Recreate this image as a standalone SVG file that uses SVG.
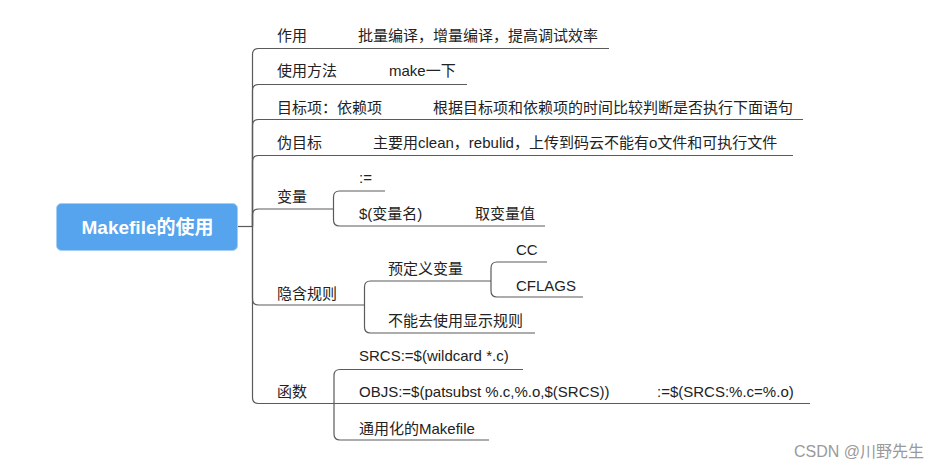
<svg xmlns="http://www.w3.org/2000/svg" width="945" height="469" viewBox="0 0 945 469">
<style>
.ln{fill:none;stroke:#5a5a5a;stroke-width:1.2}
.t{font-family:"Liberation Sans","Noto Sans CJK SC",sans-serif;font-size:15px;fill:#222}
.root{font-family:"Liberation Sans","Noto Sans CJK SC",sans-serif;font-size:19px;font-weight:bold;fill:#fff}
.wm{font-family:"Liberation Sans","Noto Sans CJK SC",sans-serif;font-size:16px;fill:#9a9a9a}
</style>
<rect width="945" height="469" fill="#fff"/>
<g id="connectors">
<path class="ln" d="M237,226.5 H252.5"/>
<path class="ln" d="M252.5,226.5 V54.5 Q252.5,48.5 258.5,48.5 H609"/>
<path class="ln" d="M252.5,226.5 V90.5 Q252.5,84.5 258.5,84.5 H467"/>
<path class="ln" d="M252.5,226.5 V125.5 Q252.5,119.5 258.5,119.5 H803"/>
<path class="ln" d="M252.5,226.5 V161.5 Q252.5,155.5 258.5,155.5 H793"/>
<path class="ln" d="M252.5,226.5 V215 Q252.5,209 258.5,209 H333.5"/>
<path class="ln" d="M252.5,226.5 V299 Q252.5,305 258.5,305 H364.5"/>
<path class="ln" d="M252.5,226.5 V397.5 Q252.5,403.5 258.5,403.5 H334"/>
<path class="ln" d="M333.5,209 V197 Q333.5,191 339.5,191 H385"/>
<path class="ln" d="M333.5,209 V220 Q333.5,226 339.5,226 H545"/>
<path class="ln" d="M364.5,305 V287 Q364.5,281 370.5,281 H491"/>
<path class="ln" d="M364.5,305 V327 Q364.5,333 370.5,333 H535"/>
<path class="ln" d="M491,281 V268 Q491,262 497,262 H547"/>
<path class="ln" d="M491,281 V291 Q491,297 497,297 H583"/>
<path class="ln" d="M334,403.5 V375.5 Q334,369.5 340,369.5 H523"/>
<path class="ln" d="M334,403.5 H810"/>
<path class="ln" d="M334,403.5 V434 Q334,440 340,440 H489"/>
</g>
<g id="root">
<rect x="56.5" y="203.5" width="181" height="47" rx="5" fill="#56a3ee" stroke="#a6cdf3" stroke-width="1"/>
<text class="root" x="147.5" y="233.5" text-anchor="middle">Makefile的使用</text>
</g>
<g id="n-zuoyong">
<text class="t" x="277" y="40.5">作用</text>
<text class="t" x="358" y="40.5">批量编译，增量编译，提高调试效率</text>
</g>
<g id="n-shiyong">
<text class="t" x="277" y="75.5">使用方法</text>
<text class="t" x="389" y="75.5">make一下</text>
</g>
<g id="n-mubiao">
<text class="t" x="277" y="112.5">目标项：依赖项</text>
<text class="t" x="433" y="112.5">根据目标项和依赖项的时间比较判断是否执行下面语句</text>
</g>
<g id="n-wei">
<text class="t" x="277" y="148">伪目标</text>
<text class="t" x="373" y="148">主要用clean，rebulid，上传到码云不能有o文件和可执行文件</text>
</g>
<g id="n-bianliang">
<text class="t" x="277" y="202">变量</text>
</g>
<g id="n-assign">
<text class="t" x="359" y="182.5">:=</text>
</g>
<g id="n-varname">
<text class="t" x="359" y="218.5">$(变量名)</text>
<text class="t" x="475" y="218.5">取变量值</text>
</g>
<g id="n-yinhan">
<text class="t" x="277" y="298.5">隐含规则</text>
</g>
<g id="n-yuding">
<text class="t" x="388" y="273.5">预定义变量</text>
</g>
<g id="n-cc">
<text class="t" x="516" y="254.5">CC</text>
</g>
<g id="n-cflags">
<text class="t" x="516" y="290.5">CFLAGS</text>
</g>
<g id="n-buneng">
<text class="t" x="388" y="325.5">不能去使用显示规则</text>
</g>
<g id="n-hanshu">
<text class="t" x="277" y="397">函数</text>
</g>
<g id="n-srcs">
<text class="t" x="359" y="360.5">SRCS:=$(wildcard *.c)</text>
</g>
<g id="n-objs">
<text class="t" x="359" y="397">OBJS:=$(patsubst %.c,%.o,$(SRCS))</text>
<text class="t" x="657" y="397">:=$(SRCS:%.c=%.o)</text>
</g>
<g id="n-tongyong">
<text class="t" x="359" y="433.5">通用化的Makefile</text>
</g>
<text class="wm" x="794" y="457">CSDN @川野先生</text>
</svg>
